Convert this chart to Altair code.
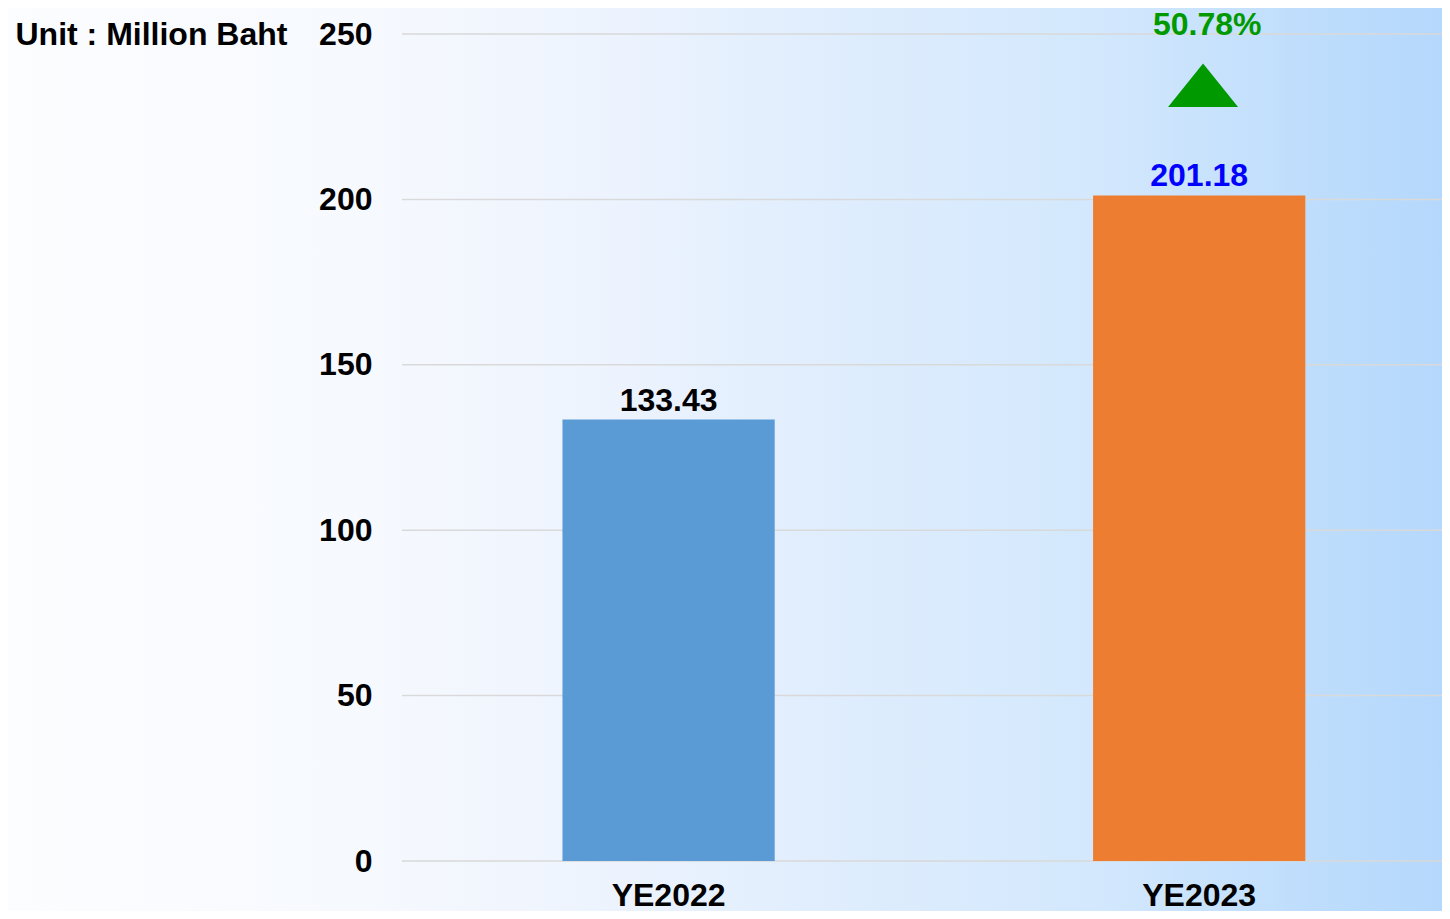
import altair as alt
import pandas as pd

years = ["YE2022", "YE2023"]
values = [133.43, 201.18]
bar_colors = ["#5B9BD5", "#ED7D31"]
label_colors = ["#000000", "#0000FF"]
labels = ["133.43", "201.18"]
tick_values = [0, 50, 100, 150, 200, 250]
growth_text = "50.78%"
growth_year = "YE2023"
growth_label_y = 252.6
growth_marker_y = 234.5

W = 1040
H = 827
FONT = "Liberation Sans"
FS = 32

df = pd.DataFrame({"year": years, "value": values, "color": bar_colors,
                   "label": labels, "lcolor": label_colors})
grid_df = pd.DataFrame({"v": tick_values})
growth_df = pd.DataFrame({"year": [growth_year], "ty": [growth_label_y],
                          "my": [growth_marker_y], "t": [growth_text]})

xscale = alt.Scale(domain=years, paddingInner=0.6, paddingOuter=0.28, align=0.54)
yscale = alt.Scale(domain=[0, 250], nice=False, zero=True)

gradient = alt.LinearGradient(
    gradient="linear", x1=0, x2=1, y1=0, y2=0,
    stops=[
        alt.GradientStop(color="#FCFDFF", offset=0.0),
        alt.GradientStop(color="#F6F9FE", offset=0.25),
        alt.GradientStop(color="#EEF4FE", offset=0.40),
        alt.GradientStop(color="#DFEDFD", offset=0.57),
        alt.GradientStop(color="#D3E8FD", offset=0.75),
        alt.GradientStop(color="#BEDDFC", offset=0.90),
        alt.GradientStop(color="#B3D7FC", offset=1.0),
    ],
)

base = alt.Chart(df)

bg = alt.Chart(grid_df.head(1)).mark_rect(color=gradient).encode(
    x=alt.value(-400), x2=alt.value(W + 20),
    y=alt.value(-40), y2=alt.value(H + 60),
)

grid = alt.Chart(grid_df).mark_rule(color="#D9D9D9", strokeWidth=1.5).encode(
    y=alt.Y("v:Q", scale=yscale),
    x=alt.value(0), x2=alt.value(W + 10),
)

bars = base.mark_bar().encode(
    x=alt.X("year:N", scale=xscale, sort=years,
            axis=alt.Axis(title=None, labelAngle=0, ticks=False, domain=False,
                          labelFont=FONT, labelFontSize=FS, labelFontWeight="bold",
                          labelColor="#000000", labelPadding=19, zindex=2)),
    y=alt.Y("value:Q", scale=yscale,
            axis=alt.Axis(values=tick_values, grid=False, ticks=False, domain=False,
                          labelFont=FONT, labelFontSize=FS, labelFontWeight="bold",
                          labelColor="#000000", labelPadding=30, zindex=2,
                          title="Unit : Million Baht", titleAngle=0, titleAlign="left",
                          titleBaseline="middle", titleX=-387, titleY=0,
                          titleFont=FONT, titleFontSize=FS, titleFontWeight="bold",
                          titleColor="#000000")),
    color=alt.Color("color:N", scale=None),
)

bar_labels = base.mark_text(font=FONT, fontSize=FS, fontWeight="bold",
                            baseline="bottom", dy=-2).encode(
    x=alt.X("year:N", scale=xscale, sort=years),
    y=alt.Y("value:Q", scale=yscale),
    text="label:N",
    color=alt.Color("lcolor:N", scale=None),
)

g = alt.Chart(growth_df)
growth_label = g.mark_text(font=FONT, fontSize=FS, fontWeight="bold",
                           color="#009900", baseline="middle", dx=8).encode(
    x=alt.X("year:N", scale=xscale, sort=years),
    y=alt.Y("ty:Q", scale=yscale),
    text="t:N",
)
growth_marker = g.mark_point(shape="M-1,0.62L1,0.62L0,-0.62Z", size=4900,
                             filled=True, color="#009900", opacity=1,
                             strokeWidth=0).encode(
    x=alt.X("year:N", scale=xscale, sort=years),
    xOffset=alt.value(110),
    y=alt.Y("my:Q", scale=yscale),
)

chart = alt.layer(bg, grid, bars, bar_labels, growth_label, growth_marker).properties(
    width=W, height=H,
    autosize=alt.AutoSizeParams(type="none"),
    padding={"left": 394, "top": 26, "right": 0, "bottom": 50},
).configure_view(stroke=None).configure(background="#FFFFFF")

chart.save("out.html", embed_options={"renderer": "svg", "actions": False})
